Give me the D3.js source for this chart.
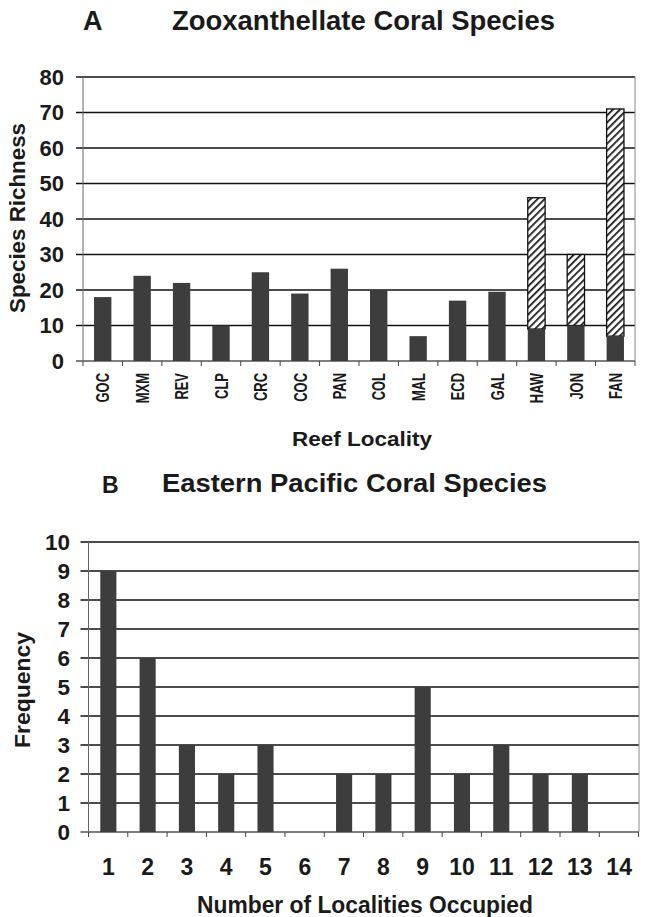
<!DOCTYPE html>
<html>
<head>
<meta charset="utf-8">
<script src="https://cdn.jsdelivr.net/npm/d3@7"></script>
<style>
  body { margin: 0; background: #fff; }
  svg { display: block; }
  text { font-family: "Liberation Sans", Arial, sans-serif; font-weight: bold; fill: #1a1a1a; }
</style>
</head>
<body>
<svg id="chart" width="646" height="917"></svg>
<script>
const svg = d3.select('#chart');

// Panel A data
const localities = ['GOC','MXM','REV','CLP','CRC','COC','PAN','COL','MAL','ECD','GAL','HAW','JON','FAN'];
const zooxEastPacific = [18, 24, 22, 10, 25, 19, 26, 20, 7, 17, 19.5, 9, 10, 7];
const zooxTotal = [18, 24, 22, 10, 25, 19, 26, 20, 7, 17, 19.5, 46, 30, 71];
const richnessTicks = [0, 10, 20, 30, 40, 50, 60, 70, 80];

// Panel B data
const localitiesOccupied = [1, 2, 3, 4, 5, 6, 7, 8, 9, 10, 11, 12, 13, 14];
const frequency = [9, 6, 3, 2, 3, 0, 2, 2, 5, 2, 3, 2, 2, 0];
const frequencyTicks = [0, 1, 2, 3, 4, 5, 6, 7, 8, 9, 10];

const barColor = '#3d3d3d';

// hatch pattern for the non eastern pacific part
const defs = svg.append('defs');
const pat = defs.append('pattern')
    .attr('id', 'hatch')
    .attr('patternUnits', 'userSpaceOnUse')
    .attr('width', 5)
    .attr('height', 5)
    .attr('patternTransform', 'rotate(45)');
pat.append('rect').attr('width', 5).attr('height', 5).attr('fill', '#fff');
pat.append('line')
    .attr('x1', 0).attr('y1', 0).attr('x2', 0).attr('y2', 5)
    .attr('stroke', '#111').attr('stroke-width', 3.4);

const drawFrame = (g, xScale, yScale, ticks, opts) => {
    const [x0, x1] = xScale.range();
    const [y0, y1] = yScale.range();

    // gridlines
    g.append('g')
        .selectAll('line')
        .data(ticks)
        .enter()
        .append('line')
            .attr('x1', x0 - opts.tickLen)
            .attr('x2', x1)
            .attr('y1', d => yScale(d))
            .attr('y2', d => yScale(d))
            .attr('stroke', d => d === 0 ? '#555' : '#111')
            .attr('stroke-width', 1.3);

    // y axis line and right border
    g.append('line')
        .attr('x1', x0).attr('x2', x0)
        .attr('y1', y0).attr('y2', y1)
        .attr('stroke', '#666').attr('stroke-width', 1);
    g.append('line')
        .attr('x1', x1).attr('x2', x1)
        .attr('y1', y0).attr('y2', y1)
        .attr('stroke', '#888').attr('stroke-width', 1);

    // y tick labels
    g.append('g')
        .selectAll('text')
        .data(ticks)
        .enter()
        .append('text')
            .attr('x', opts.labelX)
            .attr('y', d => yScale(d))
            .attr('dy', '0.36em')
            .attr('text-anchor', 'end')
            .style('font-size', opts.labelSize + 'px')
            .text(d => d);

    // x tick marks at category boundaries
    const step = xScale.step();
    const bounds = d3.range(xScale.domain().length + 1).map(i => x0 + i * step);
    g.append('g')
        .selectAll('line')
        .data(bounds)
        .enter()
        .append('line')
            .attr('x1', d => d).attr('x2', d => d)
            .attr('y1', y0).attr('y2', y0 + 5)
            .attr('stroke', '#444').attr('stroke-width', 1);
};

// ---------- Panel A ----------
const xA = d3.scaleBand()
    .domain(localities)
    .range([83, 635])
    .paddingInner(0.56)
    .paddingOuter(0.28);

const yA = d3.scaleLinear()
    .domain([0, 80])
    .range([361, 77]);

const gA = svg.append('g');
drawFrame(gA, xA, yA, richnessTicks, {tickLen: 7, labelX: 64, labelSize: 22});

gA.append('g')
    .selectAll('rect')
    .data(localities)
    .enter()
    .filter((d, i) => zooxTotal[i] > zooxEastPacific[i])
    .append('rect')
        .attr('x', d => xA(d))
        .attr('width', xA.bandwidth())
        .attr('y', d => yA(zooxTotal[localities.indexOf(d)]))
        .attr('height', d => {
            const i = localities.indexOf(d);
            return yA(zooxEastPacific[i]) - yA(zooxTotal[i]);
        })
        .attr('fill', 'url(#hatch)')
        .attr('stroke', '#111')
        .attr('stroke-width', 1.3);

gA.append('g')
    .selectAll('rect')
    .data(localities)
    .enter()
    .append('rect')
        .attr('x', d => xA(d))
        .attr('width', xA.bandwidth())
        .attr('y', (d, i) => yA(zooxEastPacific[i]))
        .attr('height', (d, i) => yA(0) - yA(zooxEastPacific[i]))
        .attr('fill', barColor);

gA.append('g')
    .selectAll('text')
    .data(localities)
    .enter()
    .append('text')
        .attr('transform', d => `translate(${xA(d) + xA.bandwidth() / 2}, 373) rotate(-90) scale(0.7, 1)`)
        .attr('dy', '0.36em')
        .attr('text-anchor', 'end')
        .style('font-size', '18.5px')
        .text(d => d);

svg.append('text')
    .attr('x', 83).attr('y', 30)
    .style('font-size', '27px')
    .text('A');
svg.append('text')
    .attr('x', 172).attr('y', 30)
    .attr('textLength', 383)
    .attr('lengthAdjust', 'spacingAndGlyphs')
    .style('font-size', '27.5px')
    .text('Zooxanthellate Coral Species');

svg.append('text')
    .attr('transform', 'translate(25, 218) rotate(-90)')
    .attr('text-anchor', 'middle')
    .attr('textLength', 190)
    .attr('lengthAdjust', 'spacingAndGlyphs')
    .style('font-size', '22px')
    .text('Species Richness');

svg.append('text')
    .attr('x', 292).attr('y', 446)
    .attr('textLength', 140)
    .attr('lengthAdjust', 'spacingAndGlyphs')
    .style('font-size', '21px')
    .text('Reef Locality');

// ---------- Panel B ----------
const xB = d3.scaleBand()
    .domain(localitiesOccupied)
    .range([88.5, 639])
    .paddingInner(0.59)
    .paddingOuter(0.3);

const yB = d3.scaleLinear()
    .domain([0, 10])
    .range([832, 542]);

const gB = svg.append('g');
drawFrame(gB, xB, yB, frequencyTicks, {tickLen: 8, labelX: 70, labelSize: 22.5});

gB.append('g')
    .selectAll('rect')
    .data(localitiesOccupied)
    .enter()
    .append('rect')
        .attr('x', d => xB(d))
        .attr('width', xB.bandwidth())
        .attr('y', (d, i) => yB(frequency[i]))
        .attr('height', (d, i) => yB(0) - yB(frequency[i]))
        .attr('fill', barColor);

gB.append('g')
    .selectAll('text')
    .data(localitiesOccupied)
    .enter()
    .append('text')
        .attr('x', d => xB(d) + xB.bandwidth() / 2)
        .attr('y', 875)
        .attr('text-anchor', 'middle')
        .style('font-size', '23px')
        .text(d => d);

svg.append('text')
    .attr('x', 102).attr('y', 493)
    .style('font-size', '23px')
    .text('B');
svg.append('text')
    .attr('x', 162).attr('y', 492)
    .attr('textLength', 385)
    .attr('lengthAdjust', 'spacingAndGlyphs')
    .style('font-size', '25.5px')
    .text('Eastern Pacific Coral Species');

svg.append('text')
    .attr('transform', 'translate(30, 690) rotate(-90)')
    .attr('text-anchor', 'middle')
    .attr('textLength', 116)
    .attr('lengthAdjust', 'spacingAndGlyphs')
    .style('font-size', '22px')
    .text('Frequency');

svg.append('text')
    .attr('x', 197).attr('y', 913)
    .attr('textLength', 336)
    .attr('lengthAdjust', 'spacingAndGlyphs')
    .style('font-size', '23px')
    .text('Number of Localities Occupied');
</script>
</body>
</html>
